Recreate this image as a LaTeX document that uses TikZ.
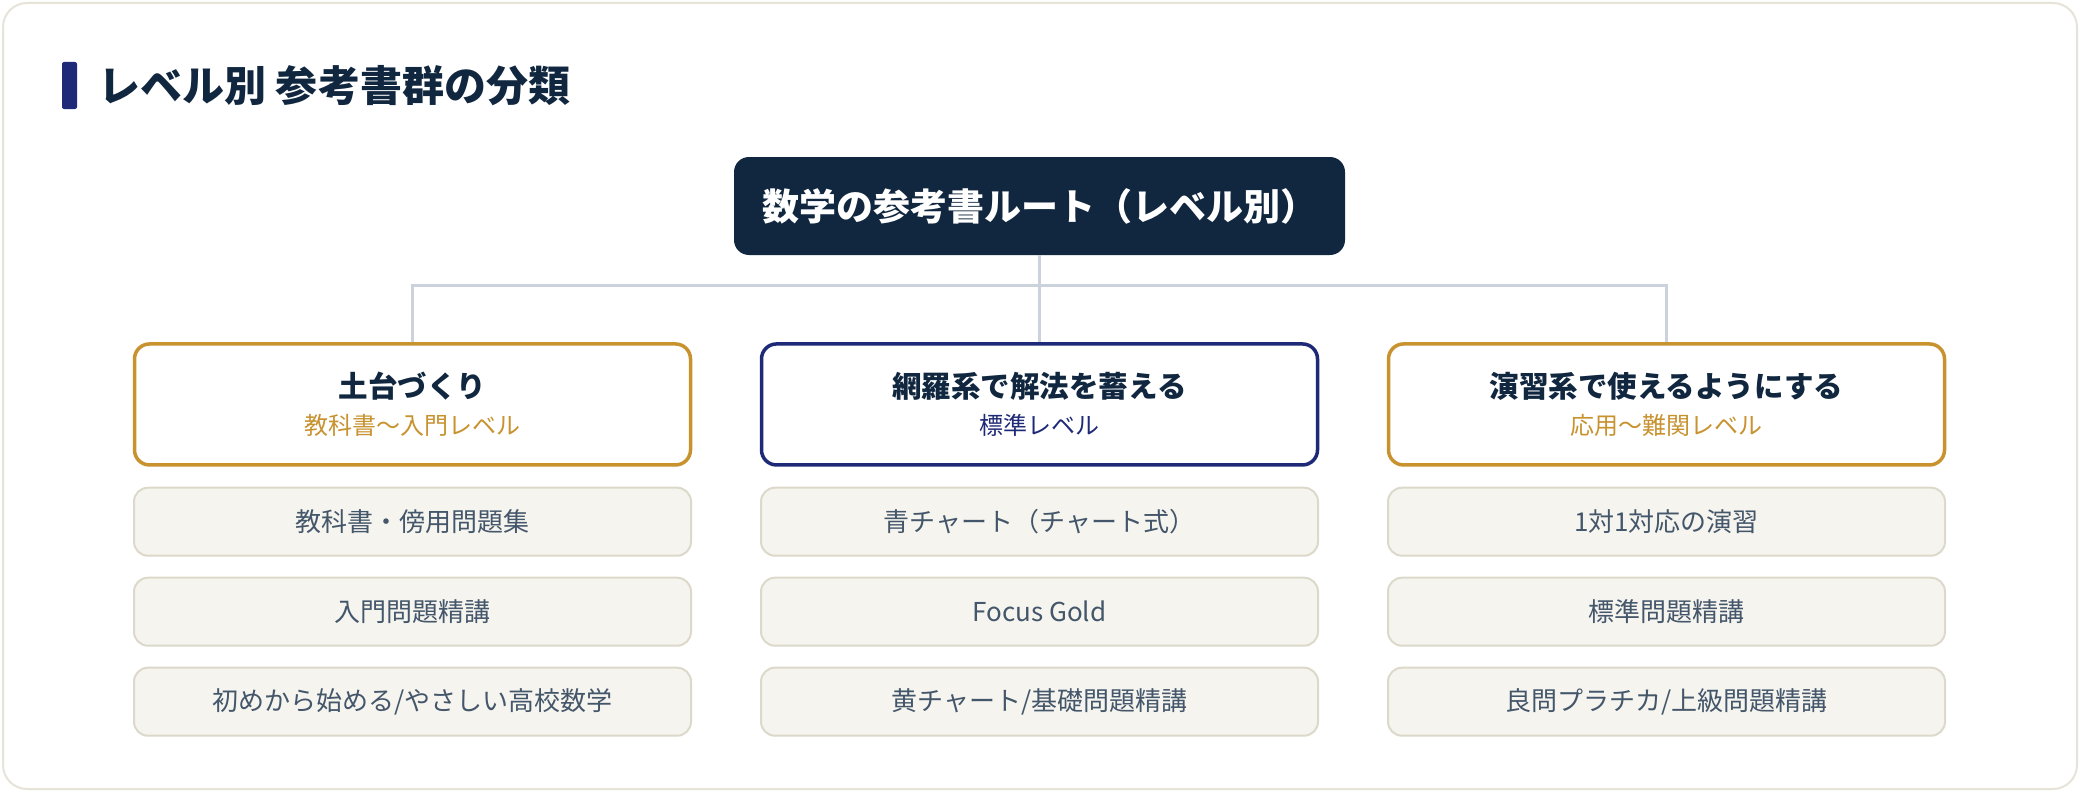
\documentclass[tikz,border=0pt]{standalone}
\usepackage{fontspec}
\setmainfont{Noto Sans CJK JP}
\usetikzlibrary{calc,positioning}
\definecolor{Navy}{HTML}{10273F}
\definecolor{Indigo}{HTML}{1E2A78}
\definecolor{Gold}{HTML}{C8922F}
\definecolor{Sand}{HTML}{F5F4EF}
\definecolor{SandLine}{HTML}{DDD9CA}
\definecolor{Slate}{HTML}{44566A}
\definecolor{Wire}{HTML}{CBD2DC}
\definecolor{Frame}{HTML}{E6E3D8}
\tikzset{
  branch/.style={line width=3pt,draw=Wire},
  titlebar/.style={rounded corners=2pt,minimum width=15pt,minimum height=47pt,inner sep=0pt,fill=Indigo},
  headline/.style={inner sep=0pt,text=Navy,font=\fontsize{42}{48}\selectfont\bfseries},
  rootbox/.style={rounded corners=15pt,minimum width=611pt,minimum height=98pt,fill=Navy,text=white,
    font=\fontsize{37}{42}\selectfont\bfseries},
  levelbox/.style={rounded corners=15pt,minimum width=556pt,minimum height=121pt,line width=3.5pt,
    fill=white,align=center,text=Navy,font=\fontsize{29.5}{34}\selectfont\bfseries},
  bookbox/.style={rounded corners=14pt,minimum width=557pt,minimum height=68pt,line width=2pt,
    draw=SandLine,fill=Sand,text=Slate,font=\fontsize{26}{30}\selectfont},
}
\newcommand{\levelsub}[2]{{\fontsize{24}{28}\selectfont\mdseries\color{#1}#2}}

\begin{document}
\begin{tikzpicture}[node distance=20pt]
  \useasboundingbox[fill=white] (0,0) rectangle (2080pt,-792pt);
  \draw[draw=Frame,line width=2pt,rounded corners=24pt,fill=white] (3pt,-3pt) rectangle (2077pt,-789pt);

  \node[titlebar] (bar) at (69.5pt,-85.5pt) {};
  \node[headline,right=21pt of bar] (head) {レベル別 参考書群の分類};

  \node[rootbox] (route) at (1039.5pt,-206pt) {数学の参考書ルート（レベル別）};

  \node[levelbox,draw=Indigo,below=87pt of route] (std) {網羅系で解法を蓄える\\[3pt]\levelsub{Indigo}{標準レベル}};
  \node[levelbox,draw=Gold,left=67.5pt of std] (base) {土台づくり\\[3pt]\levelsub{Gold}{教科書〜入門レベル}};
  \node[levelbox,draw=Gold,right=67.5pt of std] (adv) {演習系で使えるようにする\\[3pt]\levelsub{Gold}{応用〜難関レベル}};

  \coordinate (hub) at ($(route.south)+(0,-30pt)$);
  \draw[branch] (route.south) -- (hub);
  \draw[branch] (hub) -| (base.north);
  \draw[branch] (hub) -| (adv.north);
  \draw[branch] (hub) -- (std.north);

  \node[bookbox,below=of base] (base1) {教科書・傍用問題集};
  \node[bookbox,below=of base1] (base2) {入門問題精講};
  \node[bookbox,below=of base2] (base3) {初めから始める/やさしい高校数学};

  \node[bookbox,below=of std] (std1) {青チャート（チャート式）};
  \node[bookbox,below=of std1] (std2) {Focus Gold};
  \node[bookbox,below=of std2] (std3) {黄チャート/基礎問題精講};

  \node[bookbox,below=of adv] (adv1) {1対1対応の演習};
  \node[bookbox,below=of adv1] (adv2) {標準問題精講};
  \node[bookbox,below=of adv2] (adv3) {良問プラチカ/上級問題精講};
\end{tikzpicture}
\end{document}
